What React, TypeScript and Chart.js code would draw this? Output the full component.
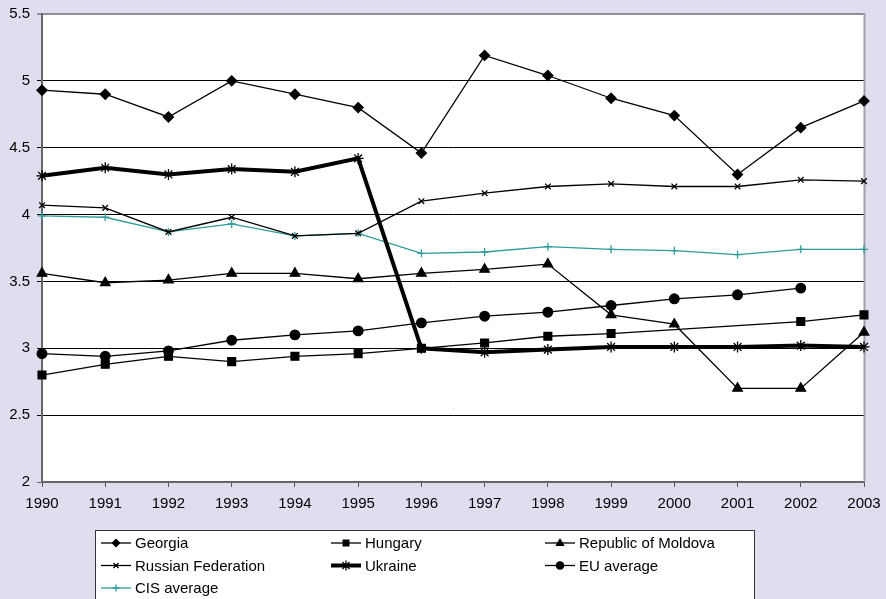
import React, { useEffect, useRef } from "react";
import { Chart, registerables } from "chart.js";

Chart.register(...registerables);

const years = ["1990","1991","1992","1993","1994","1995","1996","1997","1998","1999","2000","2001","2002","2003"];

const georgia = [4.93, 4.90, 4.73, 5.00, 4.90, 4.80, 4.46, 5.19, 5.04, 4.87, 4.74, 4.30, 4.65, 4.85];
const hungary = [2.80, 2.88, 2.94, 2.90, 2.94, 2.96, 3.00, 3.04, 3.09, 3.11, null, null, 3.20, 3.25];
const moldova = [3.56, 3.49, 3.51, 3.56, 3.56, 3.52, 3.56, 3.59, 3.63, 3.25, 3.18, 2.70, 2.70, 3.12];
const russia = [4.07, 4.05, 3.87, 3.98, 3.84, 3.86, 4.10, 4.16, 4.21, 4.23, 4.21, 4.21, 4.26, 4.25];
const ukraine = [4.29, 4.35, 4.30, 4.34, 4.32, 4.42, 3.00, 2.97, 2.99, 3.01, 3.01, 3.01, 3.02, 3.01];
const euAverage = [2.96, 2.94, 2.98, 3.06, 3.10, 3.13, 3.19, 3.24, 3.27, 3.32, 3.37, 3.40, 3.45, null];
const cisAverage = [3.99, 3.98, 3.87, 3.93, 3.84, 3.86, 3.71, 3.72, 3.76, 3.74, 3.73, 3.70, 3.74, 3.74];

const yTicks = [2, 2.5, 3, 3.5, 4, 4.5, 5, 5.5];

const TEAL = "#2e9c9a";
const BG = "#dedeef";
const FONT = "'Liberation Sans', Arial, Helvetica, sans-serif";

type SeriesDef = {
  label: string;
  data: (number | null)[];
  color: string;
  width: number;
  style: string;
  radius: number;
};

const series: SeriesDef[] = [
  { label: "Georgia", data: georgia, color: "#000", width: 1.3, style: "rectRot", radius: 5 },
  { label: "Hungary", data: hungary, color: "#000", width: 1.3, style: "rect", radius: 5.5 },
  { label: "Republic of Moldova", data: moldova, color: "#000", width: 1.3, style: "triangle", radius: 5.5 },
  { label: "Russian Federation", data: russia, color: "#000", width: 1.3, style: "crossRot", radius: 4 },
  { label: "Ukraine", data: ukraine, color: "#000", width: 4, style: "star", radius: 5.5 },
  { label: "EU average", data: euAverage, color: "#000", width: 1.3, style: "circle", radius: 4.8 },
  { label: "CIS average", data: cisAverage, color: TEAL, width: 1.3, style: "cross", radius: 4 },
];

function drawMarker(ctx: CanvasRenderingContext2D, style: string, x: number, y: number, r: number, color: string) {
  ctx.save();
  ctx.fillStyle = color;
  ctx.strokeStyle = color;
  ctx.lineWidth = 1.3;
  ctx.beginPath();
  if (style === "rectRot") {
    ctx.moveTo(x, y - r); ctx.lineTo(x + r, y); ctx.lineTo(x, y + r); ctx.lineTo(x - r, y); ctx.closePath(); ctx.fill();
  } else if (style === "rect") {
    const s = r * Math.SQRT1_2;
    ctx.rect(x - s, y - s, 2 * s, 2 * s); ctx.fill();
  } else if (style === "triangle") {
    ctx.moveTo(x, y - r); ctx.lineTo(x + r * 0.95, y + r * 0.6); ctx.lineTo(x - r * 0.95, y + r * 0.6); ctx.closePath(); ctx.fill();
  } else if (style === "circle") {
    ctx.arc(x, y, r, 0, Math.PI * 2); ctx.fill();
  } else if (style === "crossRot") {
    const d = r * Math.SQRT1_2;
    ctx.moveTo(x - d, y - d); ctx.lineTo(x + d, y + d); ctx.moveTo(x - d, y + d); ctx.lineTo(x + d, y - d); ctx.stroke();
  } else if (style === "cross") {
    ctx.moveTo(x - r, y); ctx.lineTo(x + r, y); ctx.moveTo(x, y - r); ctx.lineTo(x, y + r); ctx.stroke();
  } else if (style === "star") {
    const d = r * Math.SQRT1_2;
    ctx.moveTo(x - d, y - d); ctx.lineTo(x + d, y + d); ctx.moveTo(x - d, y + d); ctx.lineTo(x + d, y - d);
    ctx.moveTo(x, y - r); ctx.lineTo(x, y + r);
    ctx.stroke();
  }
  ctx.restore();
}

const backgroundPlugin = {
  id: "bgPlugin",
  beforeDraw(chart: any) {
    const { ctx, chartArea } = chart;
    ctx.save();
    ctx.fillStyle = BG;
    ctx.fillRect(0, 0, chart.width, chart.height);
    ctx.fillStyle = "#ffffff";
    ctx.fillRect(chartArea.left, chartArea.top, chartArea.right - chartArea.left, chartArea.bottom - chartArea.top);
    ctx.restore();
  },
  beforeDatasetsDraw(chart: any) {
    const { ctx, chartArea } = chart;
    ctx.save();
    ctx.strokeStyle = "#a0a0a8";
    ctx.lineWidth = 2;
    ctx.beginPath();
    ctx.moveTo(chartArea.right + 0.5, chartArea.top - 1);
    ctx.lineTo(chartArea.right + 0.5, chartArea.bottom);
    ctx.stroke();
    ctx.restore();
  },
  afterDraw(chart: any) {
    const { ctx } = chart;
    ctx.save();
    const lx = 95.5, ly = 530.5, lw = 659, lh = 80;
    ctx.fillStyle = "#ffffff";
    ctx.fillRect(lx, ly, lw, lh);
    ctx.strokeStyle = "#333";
    ctx.lineWidth = 1;
    ctx.strokeRect(lx, ly, lw, lh);

    const colX = [101, 331, 545];
    const rowY = [543, 565.5, 588];
    ctx.font = `15px ${FONT}`;
    ctx.textBaseline = "middle";
    ctx.textAlign = "left";
    series.forEach((s, i) => {
      const cx = colX[i % 3];
      const cy = rowY[Math.floor(i / 3)];
      ctx.strokeStyle = s.color;
      ctx.lineWidth = s.width;
      ctx.beginPath();
      ctx.moveTo(cx, cy);
      ctx.lineTo(cx + 30, cy);
      ctx.stroke();
      drawMarker(ctx, s.style, cx + 15, cy, s.radius * 0.9, s.color);
      ctx.fillStyle = "#000";
      ctx.fillText(s.label, cx + 34, cy + 1);
    });
    ctx.restore();
  },
};

export default function App() {
  const canvasRef = useRef<HTMLCanvasElement | null>(null);

  useEffect(() => {
    if (!canvasRef.current) return;
    const chart = new Chart(canvasRef.current, {
      type: "line",
      data: {
        labels: years,
        datasets: series.map((s) => ({
          label: s.label,
          data: s.data,
          borderColor: s.color,
          backgroundColor: s.color,
          borderWidth: s.width,
          pointStyle: s.style as any,
          pointRadius: s.radius,
          pointBorderWidth: 1.3,
          pointBorderColor: s.color,
          pointBackgroundColor: s.color,
          tension: 0,
          spanGaps: true,
          fill: false,
          clip: false as any,
        })),
      },
      options: {
        responsive: false,
        animation: false,
        devicePixelRatio: 1,
        layout: { autoPadding: false, padding: { top: 14, right: 22, left: 0, bottom: 0 } } as any,
        plugins: {
          legend: { display: false },
          tooltip: { enabled: false },
          title: { display: false },
        },
        scales: {
          x: {
            type: "category",
            offset: false,
            afterFit: (scale: any) => {
              scale.height = 117;
              scale.paddingLeft = 0;
              scale.paddingRight = 0;
            },
            grid: {
              drawOnChartArea: false,
              drawTicks: true,
              tickLength: 5,
              color: "#555",
            },
            border: { display: true, color: "#666", width: 2 },
            ticks: {
              color: "#000",
              font: { family: FONT, size: 15 },
              padding: 8,
              maxRotation: 0,
              autoSkip: false,
            },
          },
          y: {
            min: 2,
            max: 5.5,
            afterFit: (scale: any) => {
              scale.width = 42;
              scale.paddingTop = 0;
              scale.paddingBottom = 0;
            },
            afterBuildTicks: (scale: any) => { scale.ticks = yTicks.map((v) => ({ value: v })); },
            grid: {
              drawOnChartArea: true,
              drawTicks: true,
              tickLength: 5,
              color: (c: any) => (c.tick && c.tick.value === 5.5 ? "#909098" : c.tick && c.tick.value === 2 ? "#666" : "#000"),
              lineWidth: (c: any) => (c.tick && c.tick.value === 5.5 ? 2 : 1),
            },
            border: { display: true, color: "#666", width: 2 },
            ticks: {
              color: "#000",
              font: { family: FONT, size: 15 },
              padding: 7,
              callback: (v: any) => String(v),
            },
          },
        },
      },
      plugins: [backgroundPlugin],
    });
    return () => chart.destroy();
  }, []);

  return (
    <div style={{ position: "absolute", left: 0, top: 0, width: 886, height: 599, background: BG }}>
      <canvas ref={canvasRef} width={886} height={599} style={{ display: "block", width: 886, height: 599 }} />
    </div>
  );
}
